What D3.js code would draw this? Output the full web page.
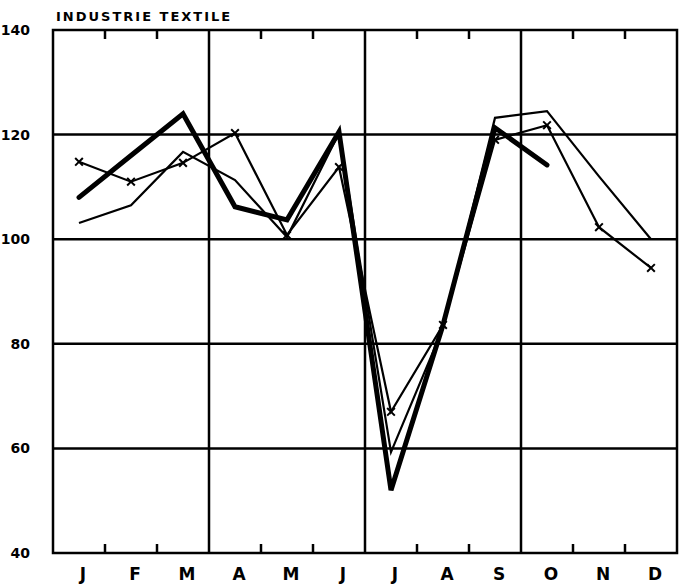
<!DOCTYPE html>
<html>
<head>
<meta charset="utf-8">
<script src="https://cdn.jsdelivr.net/npm/d3@7"></script>
<style>
  body { margin: 0; background: #fff; }
  text { font-family: "DejaVu Sans", sans-serif; font-weight: bold; fill: #000; }
</style>
</head>
<body>
<div id="chart"></div>
<script>
// month labels and data
var months = ["J", "F", "M", "A", "M", "J", "J", "A", "S", "O", "N", "D"];
var yTicks = [40, 60, 80, 100, 120, 140];
var thickSeries = [108, 116, 124, 106.2, 103.7, 120.5, 52, 83.6, 121.3, 114.2];
var plainSeries = [103.1, 106.5, 116.7, 111.3, 100.4, 120.3, 59.3, 83, 123.2, 124.5, 112, 100];
var crossSeries = [114.8, 111, 114.6, 120.3, 100.8, 113.8, 67, 83.6, 119, 121.8, 102.3, 94.5];
var title = "INDUSTRIE TEXTILE";

var W = 687, H = 586;
var margin = {top: 30, right: 10, bottom: 33, left: 53};
var width = W - margin.left - margin.right,
    height = H - margin.top - margin.bottom;

var svg = d3.select("#chart").append("svg")
  .attr("width", W).attr("height", H);
var g = svg.append("g")
  .attr("transform", "translate(" + margin.left + "," + margin.top + ")");

// x: one band per month
var x = d3.scaleBand().domain(d3.range(12)).range([0, width]);
var xc = function(i) { return x(i) + x.bandwidth() / 2; };
var y = d3.scaleLinear().domain([40, 140]).range([height, 0]);

// horizontal grid
g.selectAll(".hgrid").data(yTicks.slice(1, -1)).enter().append("line")
  .attr("x1", 0).attr("x2", width)
  .attr("y1", function(d) { return y(d); }).attr("y2", function(d) { return y(d); })
  .attr("stroke", "#000").attr("stroke-width", 2.5);

// vertical grid every 3 months
g.selectAll(".vgrid").data([3, 6, 9]).enter().append("line")
  .attr("x1", function(d) { return x(d); }).attr("x2", function(d) { return x(d); })
  .attr("y1", 0).attr("y2", height)
  .attr("stroke", "#000").attr("stroke-width", 2.5);

// small ticks at month boundaries, top and bottom
var tickPos = d3.range(1, 12).filter(function(d) { return d % 3 !== 0; });
g.selectAll(".ttick").data(tickPos).enter().append("line")
  .attr("x1", function(d) { return x(d); }).attr("x2", function(d) { return x(d); })
  .attr("y1", 0).attr("y2", 9)
  .attr("stroke", "#000").attr("stroke-width", 2.5);
g.selectAll(".btick").data(tickPos).enter().append("line")
  .attr("x1", function(d) { return x(d); }).attr("x2", function(d) { return x(d); })
  .attr("y1", height).attr("y2", height - 9)
  .attr("stroke", "#000").attr("stroke-width", 2.5);

// frame
g.append("rect")
  .attr("width", width).attr("height", height)
  .attr("fill", "none").attr("stroke", "#000").attr("stroke-width", 2.5);

// y labels
g.selectAll(".ylab").data(yTicks).enter().append("text")
  .attr("x", -23).attr("y", function(d) { return y(d); })
  .attr("dy", "0.35em").attr("text-anchor", "end")
  .style("font-size", "14px")
  .text(function(d) { return d; });

// x labels
g.selectAll(".xlab").data(months).enter().append("text")
  .attr("x", function(d, i) { return xc(i) + 4; }).attr("y", height + 27)
  .attr("text-anchor", "middle")
  .style("font-size", "17px")
  .text(function(d) { return d; });

// title
svg.append("text")
  .attr("x", 56).attr("y", 21)
  .style("font-size", "13px").style("letter-spacing", "2px")
  .text(title);

var line = d3.line()
  .x(function(d, i) { return xc(i); })
  .y(function(d) { return y(d); });

g.append("path").datum(plainSeries)
  .attr("d", line).attr("fill", "none")
  .attr("stroke", "#000").attr("stroke-width", 2.2).attr("stroke-linejoin", "miter");

g.append("path").datum(crossSeries)
  .attr("d", line).attr("fill", "none")
  .attr("stroke", "#000").attr("stroke-width", 2.2);

g.selectAll(".mark").data(crossSeries).enter().append("path")
  .attr("transform", function(d, i) { return "translate(" + xc(i) + "," + y(d) + ")"; })
  .attr("d", d3.symbol().type(d3.symbolTimes).size(40))
  .attr("fill", "none").attr("stroke", "#000").attr("stroke-width", 2);

g.append("path").datum(thickSeries)
  .attr("d", line).attr("fill", "none")
  .attr("stroke", "#000").attr("stroke-width", 5).attr("stroke-linecap", "round");
</script>
</body>
</html>
